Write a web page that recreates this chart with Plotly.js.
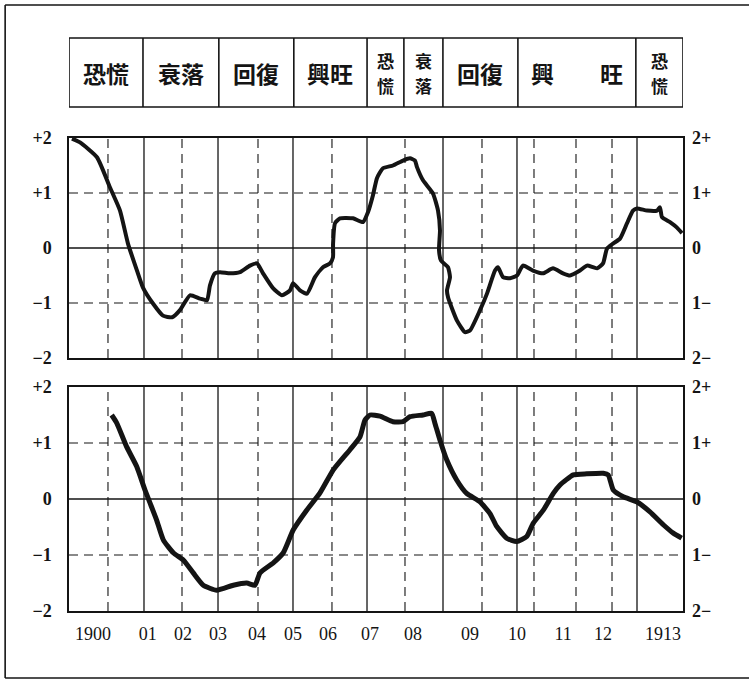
<!DOCTYPE html>
<html><head><meta charset="utf-8">
<script src="https://cdn.plot.ly/plotly-3.0.1.min.js"></script>
<style>html,body{margin:0;padding:0;background:#fff}#chart{width:749px;height:682px}</style>
</head><body><div id="chart"></div>
<script>
// ---- data ----
const topX = [1899.521,1899.704,1900.091,1900.388,1900.616,1900.798,1901.003,1901.140,1901.368,1901.596,
  1901.802,1901.984,1902.212,1902.440,1902.600,1902.668,1902.782,1902.896,1903.124,1903.352,
  1903.580,1903.740,1903.877,1904.105,1904.310,1904.493,1904.561,1904.721,1904.880,1905.063,
  1905.245,1905.405,1905.473,1905.475,1905.519,1905.633,1905.929,1906.157,1906.271,1906.385,
  1906.476,1906.613,1906.841,1907.070,1907.229,1907.343,1907.389,1907.526,1907.754,1907.868,
  1907.913,1907.891,1907.937,1908.096,1908.141,1908.073,1908.098,1908.301,1908.483,1908.597,
  1908.826,1908.985,1909.168,1909.236,1909.350,1909.510,1909.669,1909.806,1910.034,1910.262,
  1910.490,1910.718,1910.878,1911.106,1911.266,1911.494,1911.631,1911.722,1911.859,1912.018,
  1912.178,1912.315,1912.406,1912.634,1912.862,1912.930,1912.976,1913.158,1913.318,1913.432];
const topY = [1.99,1.92,1.65,1.10,0.68,0.08,-0.41,-0.72,-1.01,-1.23,
  -1.26,-1.13,-0.86,-0.92,-0.95,-0.68,-0.46,-0.44,-0.46,-0.44,
  -0.32,-0.28,-0.46,-0.73,-0.86,-0.77,-0.64,-0.77,-0.83,-0.53,
  -0.35,-0.28,-0.17,0.08,0.45,0.54,0.54,0.47,0.65,0.96,
  1.27,1.45,1.50,1.59,1.63,1.59,1.47,1.23,0.99,0.68,
  0.32,-0.04,-0.23,-0.35,-0.53,-0.77,-0.90,-1.32,-1.53,-1.50,
  -1.13,-0.83,-0.41,-0.35,-0.53,-0.55,-0.50,-0.32,-0.41,-0.46,
  -0.37,-0.46,-0.50,-0.41,-0.32,-0.37,-0.28,-0.01,0.08,0.17,
  0.45,0.68,0.72,0.68,0.68,0.74,0.56,0.47,0.37,0.27];

const bottomX = [1900.426,1900.540,1900.769,1900.997,1901.186,1901.300,1901.453,1901.603,1901.831,1902.059,
  1902.287,1902.515,1902.821,1903.200,1903.505,1903.694,1903.808,1904.112,1904.340,1904.568,
  1904.873,1905.177,1905.480,1905.861,1906.089,1906.203,1906.317,1906.545,1906.842,1907.070,
  1907.229,1907.526,1907.724,1907.799,1907.913,1908.066,1908.294,1908.522,1908.826,1909.054,
  1909.206,1909.434,1909.662,1909.891,1910.041,1910.269,1910.497,1910.650,1910.953,1911.259,
  1911.637,1911.751,1911.865,1912.093,1912.399,1912.702,1913.006,1913.234,1913.425];
const bottomY = [1.50,1.36,0.93,0.58,0.16,-0.07,-0.38,-0.73,-0.96,-1.09,
  -1.32,-1.54,-1.63,-1.54,-1.50,-1.54,-1.32,-1.14,-0.96,-0.55,
  -0.20,0.11,0.52,0.88,1.11,1.41,1.50,1.48,1.38,1.38,
  1.47,1.50,1.53,1.35,1.05,0.70,0.34,0.10,-0.05,-0.26,
  -0.49,-0.70,-0.76,-0.67,-0.43,-0.20,0.10,0.25,0.43,0.45,
  0.46,0.43,0.16,0.04,-0.05,-0.23,-0.46,-0.61,-0.70];

const yearLabels = ['1900','01','02','03','04','05','06','07','08','09','10','11','12','1913'];
const yearLabelPos = [1900.0,1901.25,1902.05,1902.85,1903.74,1904.56,1905.36,1906.32,1907.30,1908.60,1909.67,1910.72,1911.63,1913.0];

const solidGridX = [1901.163,1902.851,1904.561,1906.249,1907.982,1909.669,1912.406];
const dashedGridX = [1900.342,1902.030,1903.763,1905.450,1907.115,1908.871,1910.057,1911.015,1911.836];

const phaseBounds = [1899.453,1901.14,1902.87,1904.58,1906.25,1907.09,1907.98,1909.69,1912.38,1913.455];
const phaseNames = ['恐慌','衰落','回復','興旺','恐慌','衰落','回復','興旺','恐慌'];

const yTickVals = [-2,-1,0,1,2];
const leftLabels = ['−2','−1','0','+1','+2'];
const rightLabels = ['2−','1−','0','1+','2+'];
const solidGridY = [0];
const dashedGridY = [-1,1];

// ---- styling ----
const INK = '#141414';
const SERIF = '"Liberation Serif", "DejaVu Serif", serif';
const CJK = '"Noto Sans CJK TC", "Noto Sans CJK JP", sans-serif';
const xRange = [phaseBounds[0], phaseBounds[phaseBounds.length - 1]];
const PLOT_H = 473; // plot-area height in px, for paper-unit offsets

const traces = [
  {x: topX, y: topY, xaxis: 'x2', yaxis: 'y', mode: 'lines', hoverinfo: 'skip', showlegend: false,
   line: {color: INK, width: 4, shape: 'spline', smoothing: 0.5}},
  {x: bottomX, y: bottomY, xaxis: 'x', yaxis: 'y3', mode: 'lines', hoverinfo: 'skip', showlegend: false,
   line: {color: INK, width: 5, shape: 'spline', smoothing: 0.5}},
  // transparent copies so that the right-hand scales are drawn
  {x: topX, y: topY, xaxis: 'x2', yaxis: 'y2', mode: 'lines', hoverinfo: 'skip', showlegend: false, opacity: 0,
   line: {color: INK, width: 1}},
  {x: bottomX, y: bottomY, xaxis: 'x', yaxis: 'y4', mode: 'lines', hoverinfo: 'skip', showlegend: false, opacity: 0,
   line: {color: INK, width: 1}}
];

const shapes = [];
const panels = [{yref: 'y', ydom: 'y domain'}, {yref: 'y3', ydom: 'y3 domain'}];
panels.forEach(p => {
  solidGridX.forEach(v => shapes.push({type: 'line', layer: 'below', xref: 'x', yref: p.ydom, x0: v, x1: v, y0: 0, y1: 1,
    line: {color: INK, width: 1.3}}));
  dashedGridX.forEach(v => shapes.push({type: 'line', layer: 'below', xref: 'x', yref: p.ydom, x0: v, x1: v, y0: 0, y1: 1,
    line: {color: INK, width: 1.1, dash: '9px,6px'}}));
  solidGridY.forEach(v => shapes.push({type: 'line', layer: 'below', xref: 'paper', yref: p.yref, x0: 0, x1: 1, y0: v, y1: v,
    line: {color: INK, width: 1.3}}));
  dashedGridY.forEach(v => shapes.push({type: 'line', layer: 'below', xref: 'paper', yref: p.yref, x0: 0, x1: 1, y0: v, y1: v,
    line: {color: INK, width: 1.1, dash: '9px,6px'}}));
});

// phase box
const boxY0 = 1.0655, boxY1 = 1.2114;
shapes.push({type: 'rect', xref: 'x', yref: 'paper', x0: phaseBounds[0], x1: phaseBounds[phaseBounds.length - 1],
  y0: boxY0, y1: boxY1, line: {color: INK, width: 1.6}});
for (let i = 1; i < phaseBounds.length - 1; i++) {
  shapes.push({type: 'line', xref: 'x', yref: 'paper', x0: phaseBounds[i], x1: phaseBounds[i], y0: boxY0, y1: boxY1,
    line: {color: INK, width: 1.6}});
}
// outer page frame
shapes.push({type: 'line', xref: 'paper', yref: 'paper', x0: -0.104, x1: 1.11, y0: 1.2812, y1: 1.2812, line: {color: INK, width: 1.6}});
shapes.push({type: 'line', xref: 'paper', yref: 'paper', x0: -0.104, x1: -0.104, y0: -0.1416, y1: 1.2812, line: {color: INK, width: 1.6}});
shapes.push({type: 'line', xref: 'paper', yref: 'paper', x0: -0.104, x1: 1.11, y0: -0.1416, y1: -0.1416, line: {color: INK, width: 1.6}});

const annotations = [];
const boxMid = (boxY0 + boxY1) / 2;
phaseNames.forEach((name, i) => {
  const w = phaseBounds[i + 1] - phaseBounds[i];
  const xc = (phaseBounds[i] + phaseBounds[i + 1]) / 2;
  if (w < 1.3) {
    // narrow cell: characters stacked vertically, one annotation per character
    const chars = name.split('');
    chars.forEach((ch, k) => {
      const off = (k - (chars.length - 1) / 2) * 12.5 * 2 / PLOT_H;
      annotations.push({xref: 'x', yref: 'paper', x: xc, y: boxMid - off, text: ch, showarrow: false,
        xanchor: 'center', yanchor: 'middle', borderpad: 0,
        font: {family: CJK, size: 17, color: INK, weight: 'bold'}});
    });
  } else {
    const txt = w > 2 ? name.split('').join('　　') : name;
    annotations.push({xref: 'x', yref: 'paper', x: xc, y: boxMid, text: txt, showarrow: false,
      xanchor: 'center', yanchor: 'middle', borderpad: 0,
      font: {family: CJK, size: 23, color: INK, weight: 'bold'}});
  }
});

const axisBase = {showline: true, mirror: true, linecolor: INK, linewidth: 1.6, showgrid: false, zeroline: false, ticks: ''};
const yLeft = Object.assign({}, axisBase, {range: [-2, 2], tickvals: yTickVals, ticktext: leftLabels, ticklabelstandoff: 12,
  tickfont: {family: SERIF, size: 18, color: INK, weight: 'bold'}});
const yRight = Object.assign({}, axisBase, {range: [-2, 2], tickvals: yTickVals, ticktext: rightLabels, side: 'right', ticklabelstandoff: 8,
  tickfont: {family: SERIF, size: 18, color: INK, weight: 'bold'}, showline: false});

const layout = {
  width: 749, height: 682,
  margin: {l: 69, r: 66, t: 138, b: 71},
  paper_bgcolor: '#fff', plot_bgcolor: '#fff',
  showlegend: false,
  xaxis: Object.assign({}, axisBase, {anchor: 'y3', range: xRange, tickvals: yearLabelPos, ticktext: yearLabels,
    ticklabelstandoff: 6, tickfont: {family: SERIF, size: 18, color: INK}}),
  xaxis2: Object.assign({}, axisBase, {anchor: 'y', matches: 'x', range: xRange, showticklabels: false}),
  yaxis: Object.assign({}, yLeft, {domain: [0.5349, 1], anchor: 'x2'}),
  yaxis2: Object.assign({}, yRight, {overlaying: 'y', anchor: 'x2'}),
  yaxis3: Object.assign({}, yLeft, {domain: [0, 0.4736], anchor: 'x'}),
  yaxis4: Object.assign({}, yRight, {overlaying: 'y3', anchor: 'x'}),
  shapes: shapes,
  annotations: annotations
};

Plotly.newPlot('chart', traces, layout, {staticPlot: true, displayModeBar: false});
</script>
</body></html>
